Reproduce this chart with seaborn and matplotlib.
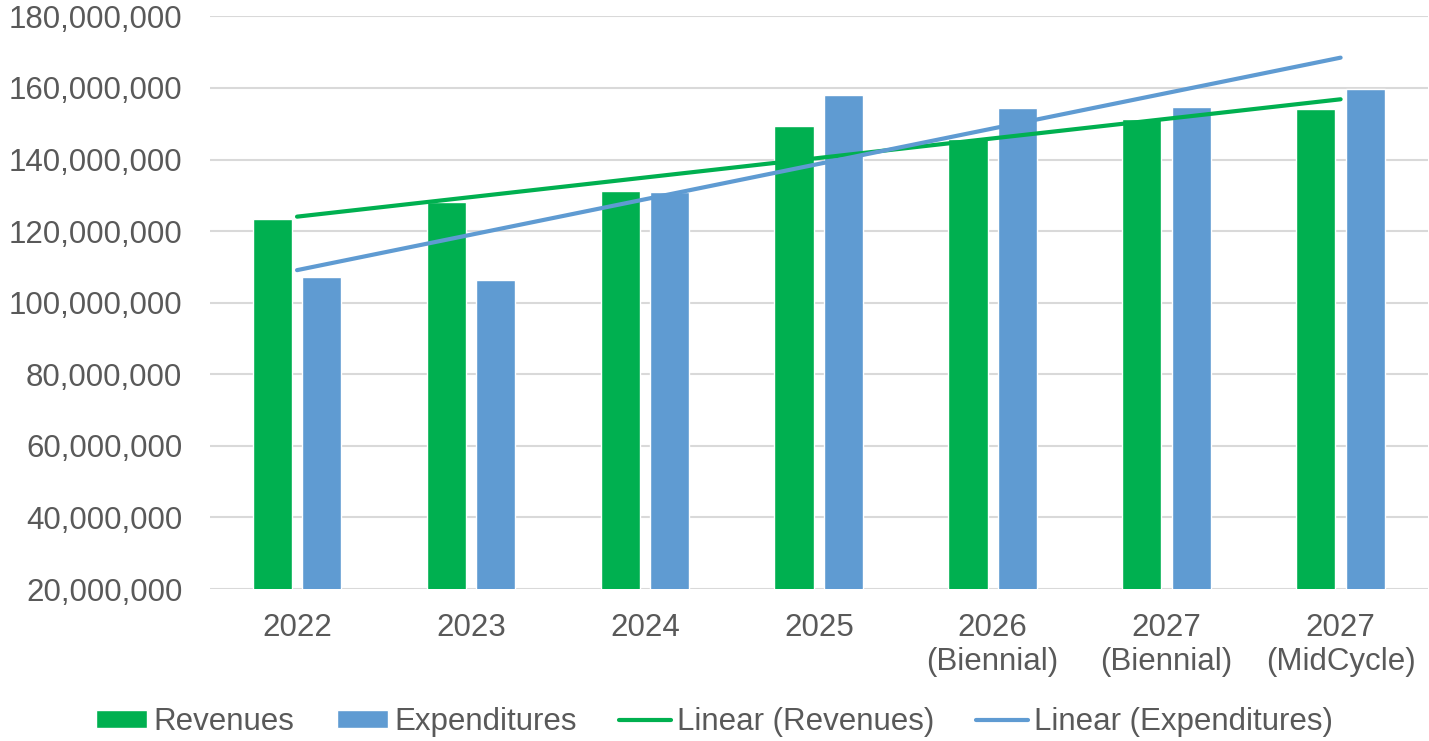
import numpy as np
import pandas as pd
import matplotlib
matplotlib.use("Agg")
import matplotlib.pyplot as plt
import seaborn as sns
from matplotlib.ticker import FuncFormatter

# values
years = ["2022", "2023", "2024", "2025", "2026\n(Biennial)", "2027\n(Biennial)", "2027\n(MidCycle)"]
revenues = [123.5e6, 128.0e6, 131.1e6, 149.4e6, 145.6e6, 151.2e6, 154.2e6]
expenditures = [107.3e6, 106.4e6, 131.0e6, 157.9e6, 154.5e6, 154.7e6, 159.6e6]

green = "#00B050"
blue = "#5F9BD2"
grey = "#595959"

df = pd.DataFrame({"Year": years * 2,
                   "Amount": revenues + expenditures,
                   "Series": ["Revenues"] * len(years) + ["Expenditures"] * len(years)})

sns.set_style("white")
plt.rcParams["font.family"] = ["Liberation Sans", "DejaVu Sans"]

fig = plt.figure(figsize=(14.29, 7.41), dpi=100)
ax = fig.add_axes([0.147, 0.205, 0.852, 0.773])

sns.barplot(data=df, x="Year", y="Amount", hue="Series", order=years,
            palette=[green, blue], width=0.57, gap=0.21, ax=ax, saturation=1)

# linear trendlines like Excel's
x = np.arange(len(years))
for vals, col, name in [(revenues, green, "Linear (Revenues)"),
                        (expenditures, blue, "Linear (Expenditures)")]:
    k, b = np.polyfit(x, vals, 1)
    ax.plot(x, k * x + b, color=col, lw=3, solid_capstyle="round", label=name)

ax.set_xlim(-0.5, len(years) - 0.5)
ax.set_ylim(20e6, 180e6)
ax.set_yticks(np.arange(20e6, 180e6 + 1, 20e6))
ax.yaxis.set_major_formatter(FuncFormatter(lambda v, p: f"{v:,.0f}"))
ax.grid(axis="y", color="#D9D9D9", lw=1.5)
ax.set_axisbelow(True)
for s in ax.spines.values():
    s.set_visible(False)
ax.tick_params(axis="both", length=0, labelsize=22.5, colors=grey)
ax.tick_params(axis="y", pad=20)
ax.tick_params(axis="x", pad=17)
ax.set_xlabel("")
ax.set_ylabel("")

handles, labels = ax.get_legend_handles_labels()
ax.legend(handles, labels, loc="center", bbox_to_anchor=(0.5, 0.026),
          bbox_transform=fig.transFigure, ncol=4, frameon=False,
          fontsize=22.5, labelcolor=grey, handlelength=1.65, handleheight=0.5,
          handletextpad=0.2, columnspacing=1.35)

fig.savefig("out.png", dpi=100)
